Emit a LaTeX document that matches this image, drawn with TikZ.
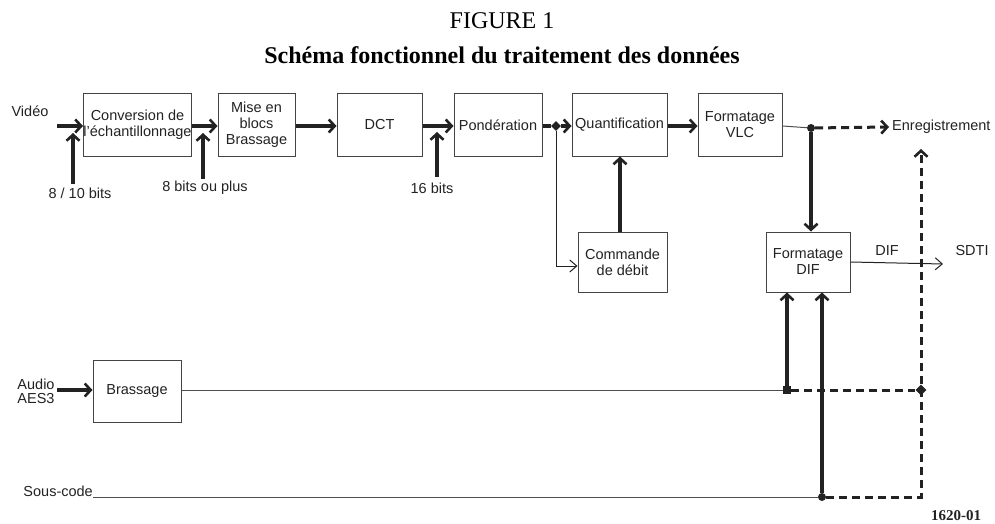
\documentclass[tikz,border=0pt]{standalone}
\usepackage{fontspec}
\setmainfont{Liberation Sans}
\newfontfamily\tnr{Liberation Serif}
\usetikzlibrary{arrows.meta,shapes.geometric}
\definecolor{ink}{HTML}{222222}
\definecolor{boxline}{HTML}{444444}
\tikzset{
  blk/.style={draw=boxline, line width=1pt, inner sep=0pt, minimum height=62pt, align=center, text=ink,
    font=\fontsize{14.5}{16}\selectfont},
  lbl/.style={inner sep=0pt, text=ink, align=center, font=\fontsize{14.5}{16}\selectfont},
  thickarrow/.style={draw=ink, line width=3.2pt, -{Straight Barb[length=6pt,width=13pt,line width=2.6pt]}},
  thinarrow/.style={draw=ink, line width=1pt, -{Straight Barb[length=7pt,width=12pt,line width=1pt]}},
  thinline/.style={draw=ink!80, line width=1pt},
  thickline/.style={draw=ink, line width=3.2pt},
  dashline/.style={draw=ink, line width=3pt, dash pattern=on 8pt off 5pt},
  dasharrow/.style={dashline, -{Straight Barb[length=6pt,width=13pt,line width=2.6pt]}},
  jdot/.style={circle, fill=ink, inner sep=0pt, minimum size=8pt},
  jsq/.style={rectangle, fill=ink, inner sep=0pt, minimum size=7.5pt},
  jdia/.style={diamond, fill=ink, inner sep=0pt, minimum size=10pt},
}
\begin{document}
\begin{tikzpicture}[x=1pt, y=-1pt]
\useasboundingbox (0,0) rectangle (995,524);

% titles
\node[inner sep=0pt, text=black, font=\tnr\fontsize{24}{26}\selectfont] (t1) at (502,21) {FIGURE 1};
\node[inner sep=0pt, text=black, font=\tnr\bfseries\fontsize{24}{26}\selectfont] (t2) at (502,55) {Schéma fonctionnel du traitement des données};

% blocks
\node[blk, minimum width=99pt] (conv) at (137.5,125) {Conversion de\\l'échantillonnage};
\node[blk, minimum width=77pt] (mise) at (256.5,125) {Mise en\\blocs\\Brassage};
\node[blk, minimum width=85pt] (dct) at (379.5,125) {DCT};
\node[blk, minimum width=88pt] (pond) at (498,125) {Pondération};
\node[blk, minimum width=95pt] (quant) at (619.5,125) {Quantification};
\node[blk, minimum width=84pt] (vlc) at (740,125) {Formatage\\VLC};
\node[blk, minimum width=89pt, minimum height=60pt] (cmd) at (622.5,262) {Commande\\de débit};
\node[blk, minimum width=84pt, minimum height=60pt] (dif) at (808,262) {Formatage\\DIF};
\node[blk, minimum width=88pt] (bras) at (137,391) {Brassage};

% labels
\node[lbl] (video) at (30,111) {Vidéo};
\node[lbl] (b810) at (80,193) {8 / 10 bits};
\node[lbl] (b8p) at (205,188) {8 bits ou plus};
\node[lbl] (b16) at (432,188) {16 bits};
\node[lbl, anchor=west] (enr) at (892,127) {Enregistrement};
\node[lbl] (diflbl) at (887,251) {DIF};
\node[lbl] (sdti) at (972,251) {SDTI};
\node[lbl, font=\fontsize{14.5}{14}\selectfont] (audio) at (36,391) {Audio\\AES3};
\node[lbl, anchor=east] (sous) at (93,491) {Sous-code};
\node[inner sep=0pt, text=ink, font=\tnr\bfseries\fontsize{15}{16}\selectfont] (code) at (956,516) {1620-01};

% coordinates
\coordinate (vin) at (57,126);
\coordinate (b810top) at (73,184);
\coordinate (b8ptop) at (203,179);
\coordinate (b16top) at (437,177);
\coordinate (cmdcorner) at (556,266);
\coordinate (enrcorner) at (921,497);
\coordinate (enrtip) at (921,149);
\coordinate (sdtitip) at (943,264);
\coordinate (ain) at (57,390);
\coordinate (sin) at (93,497);

% junctions
\node[jdia] (jp) at (556,126) {};
\node[jdot] (jv) at (811,128) {};
\node[jsq] (ja) at (787,390) {};
\node[jdia, minimum size=11pt] (je) at (921,390) {};
\node[jdot] (js) at (822,497) {};

% main chain
\draw[thickarrow] (vin) -- (conv.west |- vin);
\draw[thickarrow] (b810top) -- (73,133);
\draw[thickarrow] (conv.east |- vin) -- (mise.west |- vin);
\draw[thickarrow] (b8ptop) -- (203,133);
\draw[thickarrow] (mise.east |- vin) -- (dct.west |- vin);
\draw[thickarrow] (dct.east |- vin) -- (pond.west |- vin);
\draw[thickarrow] (b16top) -- (437,132);
\draw[thickline] (pond.east |- jp) -- (jp);
\draw[thickarrow] (jp) -- (quant.west |- jp);
\draw[thickarrow] (quant.east |- vin) -- (vlc.west |- vin);

% rate control
\draw[thinarrow] (jp) -- (cmdcorner) -- (cmd.west |- cmdcorner);
\draw[thickarrow] (cmd.north -| 620,0) -- (quant.south -| 620,0);

% VLC to junction
\draw[thinline] (vlc.east |- 0,126) -- (jv);
\draw[dasharrow] (jv) -- (889,127);
\draw[thickarrow] (jv) -- (dif.north -| jv);

% DIF to SDTI
\draw[thinarrow] (dif.east) -- (sdtitip);

% audio
\draw[thickarrow] (ain) -- (bras.west |- ain);
\draw[thinline] (bras.east |- ja) -- (ja);
\draw[thickarrow] (ja) -- (dif.south -| ja);
\draw[dashline] (ja) -- (je);

% sous-code
\draw[thinline] (sin) -- (js);
\draw[thickarrow] (js) -- (dif.south -| js);
\draw[dasharrow] (js) -- (enrcorner) -- (enrtip);

\end{tikzpicture}
\end{document}
